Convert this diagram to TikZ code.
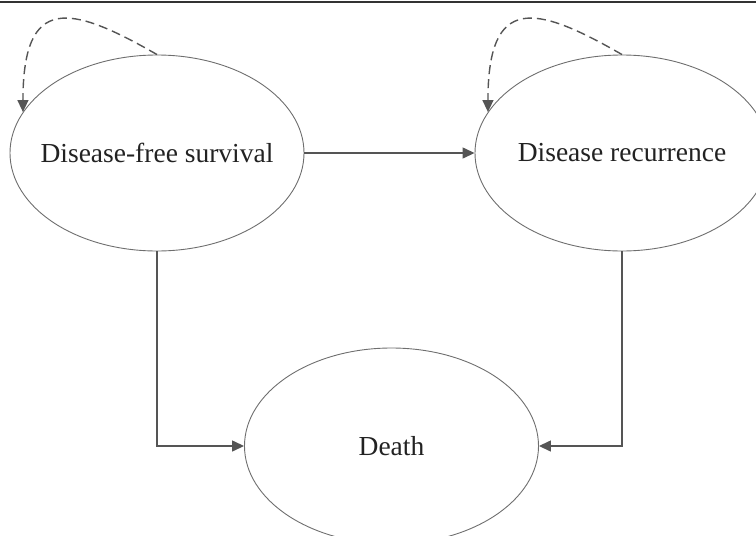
\documentclass[tikz,border=0pt]{standalone}
\usepackage{fontspec}
\setmainfont{Liberation Serif}
\usetikzlibrary{arrows.meta,shapes.geometric}
\definecolor{linegray}{RGB}{85,85,85}
\definecolor{ringgray}{RGB}{110,110,110}
\definecolor{textdark}{RGB}{34,34,34}

\begin{document}
\begin{tikzpicture}[x=1pt, y=-1pt,
    every node/.style={font=\fontsize{27.5}{33}\selectfont, text=textdark},
    state/.style={draw=ringgray, line width=0.9pt, ellipse, inner sep=0pt, minimum width=294pt, minimum height=196pt},
    flow/.style={-{Triangle[length=12pt,width=11pt]}, line width=1.4pt, linegray},
    selfloop/.style={flow, dash pattern=on 9pt off 5pt}]

    \useasboundingbox (0,0) rectangle (756,536);
    \clip (0,0) rectangle (756,536);

    % === Top rule ===
    \draw[line width=1.8pt, black!80] (0,2) -- (756,2);

    % === States ===
    \node[state] (dfs) at (157,153) {\makebox[0pt]{Disease-free survival}};
    \node[state] (rec) at (622,153) {\makebox[0pt]{Disease recurrence}};
    \node[state] (death) at (391.5,446) {\makebox[0pt]{Death}};

    % === Transitions ===
    \draw[flow] (dfs.east) -- (rec.west);
    \draw[flow] (dfs.south) |- (death.west);
    \draw[flow] (rec.south) |- (death.east);

    % === Staying in the same state ===
    \draw[selfloop] (dfs.north) .. controls +(-87,-50) and +(0,-118) .. (dfs.163);
    \draw[selfloop] (rec.north) .. controls +(-87,-50) and +(0,-118) .. (rec.163);
\end{tikzpicture}
\end{document}
